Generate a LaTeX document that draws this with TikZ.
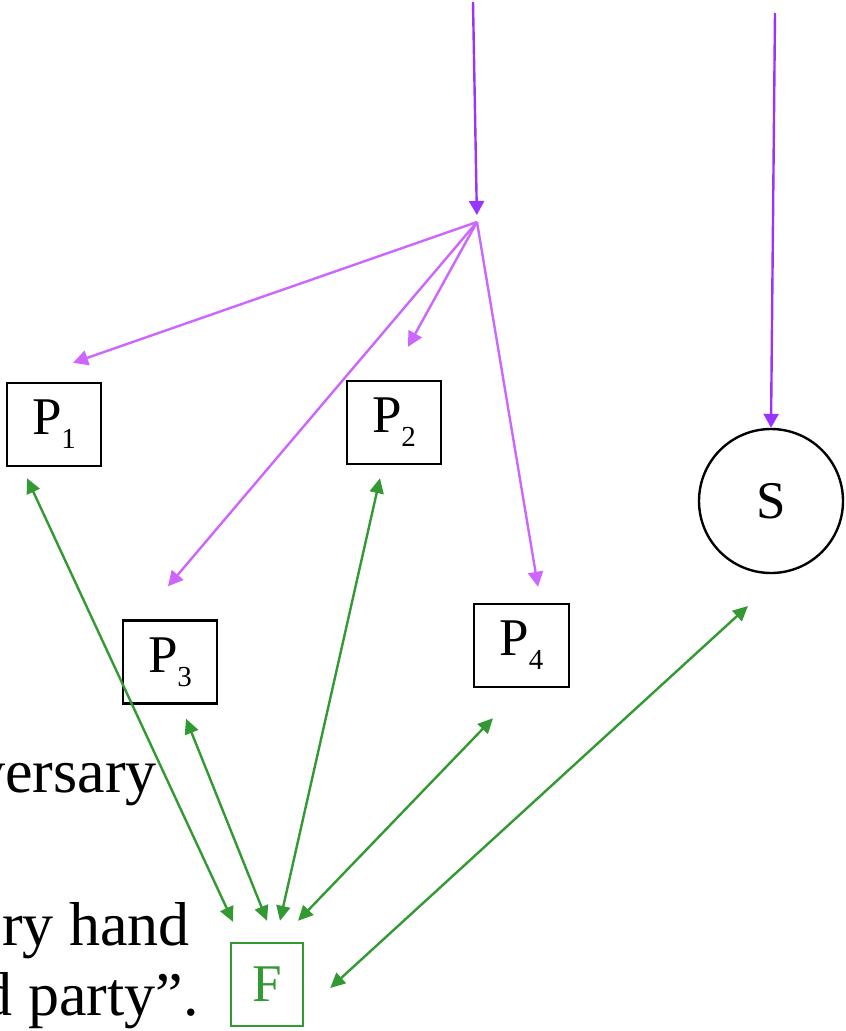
\documentclass[tikz,border=0pt]{standalone}
\usepackage{fontspec}
\setmainfont{Liberation Serif}
\usetikzlibrary{arrows.meta,calc}
\definecolor{vdark}{RGB}{153,51,255}
\definecolor{vlight}{RGB}{204,102,255}
\definecolor{grn}{RGB}{51,153,51}
\newcommand{\sbs}[1]{\raisebox{-14pt}{\fontsize{29}{29}\selectfont #1}}
\tikzset{
  pbox/.style={draw=black,line width=2.4pt,minimum width=94pt,minimum height=83pt,inner sep=0pt,
    font=\fontsize{53}{53}\selectfont},
  fbox/.style={draw=grn,line width=2.4pt,minimum width=72pt,minimum height=83pt,inner sep=0pt,
    text=grn,font=\fontsize{53}{53}\selectfont},
  scirc/.style={draw=black,circle,line width=2.4pt,minimum size=144pt,inner sep=0pt,
    font=\fontsize{53}{53}\selectfont},
  bodytxt/.style={anchor=base east,inner sep=0pt,font=\fontsize{62}{62}\selectfont},
  darr/.style={draw=vdark,line width=2.4pt,-{Triangle[width=15pt,length=14pt]}},
  larr/.style={draw=vlight,line width=2.4pt,-{Triangle[width=15pt,length=15pt]}},
  garr/.style={draw=grn,line width=2.4pt,{Triangle[width=14pt,length=15pt]}-{Triangle[width=14pt,length=15pt]}},
}
\begin{document}
\begin{tikzpicture}[x=1pt,y=1pt]
\useasboundingbox (0,0) rectangle (846,-1031);
% nodes
\node[pbox] (P1) at (54,-424.5) {P\sbs{1}};
\node[pbox] (P2) at (394,-422.5) {P\sbs{2}};
\node[pbox] (P3) at (170,-662) {P\sbs{3}};
\node[pbox,minimum width=95pt] (P4) at (521.5,-645.5) {P\sbs{4}};
\node[scirc] (S) at (771,-501) {S};
\node[fbox] (F) at (267,-984.5) {F};
% body text (cut off at left edge)
\node[bodytxt] (t1) at (157,-792) {versary};
\node[bodytxt] (t2) at (190,-945) {ry hand};
\node[bodytxt] (t3) at (199,-1015) {d party”.};
% free ends and hub
\coordinate (top1) at (473,-2);
\coordinate (hub) at (477,-222);
\coordinate (top2) at (775,-13);
% purple arrows
\draw[darr,shorten >=7pt] (top1) -- (hub);
\draw[darr] (top2) -- (S.north);
\draw[larr] (hub) -- ($(P1.north)+(19,19)$);
\draw[larr] (hub) -- ($(P2.north)+(14,33)$);
\draw[larr] (hub) -- ($(P3.north)+(-2,33)$);
\draw[larr] (hub) -- ($(P4.north)+(16.5,16)$);
% green arrows
\draw[garr] ($(P1.south)+(-27,-11)$) -- ($(F.north)+(-34,20)$);
\draw[garr] ($(P3.south)+(16,-14)$) -- ($(F.north)+(0,21)$);
\draw[garr] ($(P2.south)+(-14,-13)$) -- ($(F.north)+(13,21)$);
\draw[garr] ($(P4.south)+(-28.5,-30)$) -- ($(F.north)+(31,21)$);
\draw[garr] ($(S.center)+(-23,-105)$) -- ($(F.east)+(26,-3.5)$);
\end{tikzpicture}
\end{document}
